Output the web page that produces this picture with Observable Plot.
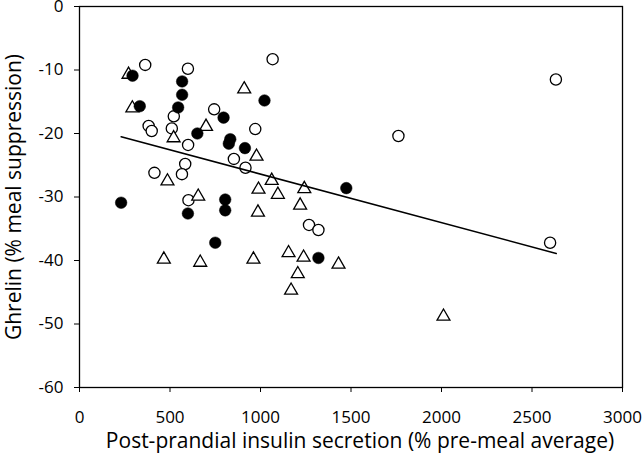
<!DOCTYPE html>
<html>
<head>
<meta charset="utf-8">
<script src="https://cdn.jsdelivr.net/npm/d3@7"></script>
<script src="https://cdn.jsdelivr.net/npm/@observablehq/plot@0.6"></script>
<style>
  html, body { margin: 0; padding: 0; background: #fff; }
  #chart svg { display: block; }
</style>
</head>
<body>
<div id="chart"></div>
<script>
// Filled circles
const filledX = [293, 567, 567, 545, 333, 1022, 796, 651, 833, 825, 914, 1474, 230, 805, 805, 599, 750, 1320];
const filledY = [-10.9, -11.8, -13.9, -15.9, -15.7, -14.8, -17.5, -20.0, -20.9, -21.6, -22.3, -28.6, -30.9, -30.4, -32.1, -32.6, -37.2, -39.6];
// Open circles
const openX = [363, 599, 1067, 744, 521, 382, 399, 510, 971, 600, 853, 917, 584, 566, 414, 602, 1268, 1320, 2632, 1762, 2600];
const openY = [-9.2, -9.8, -8.3, -16.2, -17.3, -18.8, -19.6, -19.2, -19.3, -21.8, -24.0, -25.4, -24.8, -26.4, -26.2, -30.5, -34.4, -35.2, -11.5, -20.4, -37.2];
// Open triangles
const triX = [271, 292, 520, 699, 910, 978, 486, 1062, 989, 1096, 1242, 656, 986, 1219, 466, 667, 961, 1155, 1238, 1431, 1206, 1169, 2011];
const triY = [-10.4, -15.7, -20.4, -18.6, -12.7, -23.3, -27.2, -27.1, -28.5, -29.3, -28.4, -29.6, -32.1, -31.0, -39.5, -40.0, -39.5, -38.5, -39.2, -40.3, -41.8, -44.4, -48.5];
// Trend line end points
const trendX = [230, 2634];
const trendY = [-20.5, -38.9];
// Axis ticks
const xTicks = [0, 500, 1000, 1500, 2000, 2500, 3000];
const yTicks = [0, -10, -20, -30, -40, -50, -60];
const xLabel = "Post-prandial insulin secretion (% pre-meal average)";
const yLabel = "Ghrelin (% meal suppression)";

const zip = (xs, ys) => xs.map((x, i) => ({x, y: ys[i]}));
const filled = zip(filledX, filledY);
const open = zip(openX, openY);
const tri = zip(triX, triY);
const trend = zip(trendX, trendY);

const chart = Plot.plot({
  width: 643,
  height: 462,
  marginLeft: 79,
  marginRight: 21,
  marginTop: 6,
  marginBottom: 75,
  x: {domain: [0, 3000]},
  y: {domain: [-60, 0]},
  style: {fontFamily: "'Open Sans', sans-serif", fontSize: "17px", background: "white", color: "black"},
  marks: [
    Plot.axisX({ticks: xTicks, tickSize: 5, tickPadding: 18, fontSize: 17, label: null, tickFormat: d => String(d)}),
    Plot.axisY({ticks: yTicks, tickSize: 5, tickPadding: 11, fontSize: 17, label: null, tickFormat: d => String(d)}),
    Plot.frame({stroke: "black", strokeWidth: 1.3}),
    Plot.dot(open, {x: "x", y: "y", r: 5.6, fill: "white", stroke: "black", strokeWidth: 1.3}),
    Plot.dot(tri, {x: "x", y: "y", symbol: "triangle", r: 4.8, fill: "white", stroke: "black", strokeWidth: 1.3, dy: 2}),
    Plot.dot(filled, {x: "x", y: "y", r: 5.8, fill: "black", stroke: "black", strokeWidth: 0.5}),
    Plot.line(trend, {x: "x", y: "y", stroke: "black", strokeWidth: 1.5}),
    Plot.text([xLabel], {text: d => d, frameAnchor: "bottom", textAnchor: "middle", lineAnchor: "middle", dy: 54, dx: 9, fontSize: 21}),
    Plot.text([yLabel], {text: d => d, frameAnchor: "left", textAnchor: "middle", lineAnchor: "middle", dx: -65, rotate: -90, fontSize: 21})
  ]
});
document.getElementById("chart").appendChild(chart);
</script>
</body>
</html>
